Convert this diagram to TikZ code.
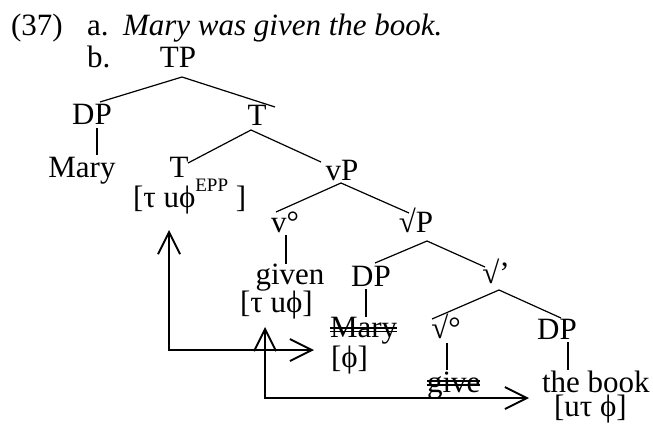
\documentclass[tikz,border=0pt]{standalone}
\usepackage{fontspec}
\setmainfont{Liberation Serif}
\usetikzlibrary{arrows.meta,calc}
\begin{document}
\begin{tikzpicture}[x=1pt,y=-1pt,
  every node/.style={inner sep=0pt,outer sep=0pt,font=\fontsize{31}{36}\selectfont},
  lab/.style={anchor=base},
  labw/.style={anchor=base west},
  br/.style={line width=1.2pt},
  strike/.style={line width=1.1pt},
  mv/.style={line width=1.9pt,{Straight Barb[length=22pt,width=22pt,line width=1.9pt]}-{Straight Barb[length=22pt,width=22pt,line width=1.9pt]}}
]
\useasboundingbox (0,0) rectangle (653,423);
% heading
\node[labw] (ex) at (11,35) {(37)};
\node[labw] (a) at (87,35) {a.};
\node[labw] (sent) at (123,35) {\itshape Mary was given the book.};
\node[labw] (b) at (87,67) {b.};
% tree nodes
\node[lab] (TP) at (178,67) {TP};
\node[lab] (DP1) at (92,124) {DP};
\node[lab] (Mary1) at (82,177) {Mary};
\node[lab] (T1) at (257,125) {T};
\node[lab] (T2) at (179,177) {T};
\node[labw] (Tfeat) at (133,207) {[τ uϕ\raisebox{16pt}{\fontsize{19}{19}\selectfont EPP} ]};
\node[lab] (vP) at (342,180) {vP};
\node[lab] (vo) at (285,232) {v°};
\node[lab] (rP) at (416,232) {√P};
\node[lab] (given) at (290,284) {given};
\node[labw] (gfeat) at (240,312) {[τ uϕ]};
\node[lab] (DP2) at (371,286) {DP};
\node[labw] (Mary2) at (330,337) {Mary};
\node[labw] (phi) at (331,367) {[ϕ]};
\node[lab] (rbar) at (496,283) {√’};
\node[lab] (ro) at (446,338) {√°};
\node[lab] (DP3) at (557,339) {DP};
\node[labw] (give) at (427,392) {give};
\node[labw] (book) at (542,392) {the book};
\node[labw] (bfeat) at (554,416.5) {[uτ ϕ]};
% branches
\draw[br] ($(DP1.base)+(8,-22)$) -- ($(TP.base)+(4,10)$) -- ($(T1.base)+(18,-18)$);
\draw[br] ($(T2.base)+(9,-14)$) -- ($(T1.base)+(-6,5)$) -- ($(vP.base)+(-21,-18)$);
\draw[br] ($(vo.base)+(-9,-20)$) -- ($(vP.base)+(-1,3)$) -- ($(rP.base)+(-7,-19)$);
\draw[br] ($(DP2.base)+(4,-23)$) -- ($(rP.base)+(11,9)$) -- ($(rbar.base)+(-11,-16)$);
\draw[br] ($(ro.base)+(-14,-19)$) -- ($(rbar.base)+(3,7)$) -- ($(DP3.base)+(4,-21)$);
% unary lines
\draw[br] ($(DP1.base)+(5,4)$) -- ($(DP1.base)+(5,31)$);
\draw[br] ($(vo.base)+(1,3)$) -- ($(vo.base)+(1,32)$);
\draw[br] ($(DP2.base)+(-5,3)$) -- ($(DP2.base)+(-5,31)$);
\draw[br] ($(ro.base)+(1,5)$) -- ($(ro.base)+(1,32)$);
\draw[br] ($(DP3.base)+(11,3)$) -- ($(DP3.base)+(11,31)$);
% strike-throughs
\draw[strike] ($(Mary2.base west)+(0,-9)$) -- ($(Mary2.base east)+(0,-9)$);
\draw[strike] ($(Mary2.base west)+(0,-5.5)$) -- ($(Mary2.base east)+(0,-5.5)$);
\draw[strike] ($(give.base west)+(0,-11)$) -- ($(give.base east)+(0,-11)$);
\draw[strike] ($(give.base west)+(0,-7)$) -- ($(give.base east)+(0,-7)$);
% movement arrows
\coordinate (k1t) at (169,230);
\coordinate (k1) at (169,350);
\coordinate (k1e) at (314,350);
\coordinate (k2t) at (265,327);
\coordinate (k2) at (265,398);
\coordinate (k2e) at (529,398);
\draw[mv] (k1t) -- (k1) -- (k1e);
\draw[mv] (k2t) -- (k2) -- (k2e);
\end{tikzpicture}
\end{document}
